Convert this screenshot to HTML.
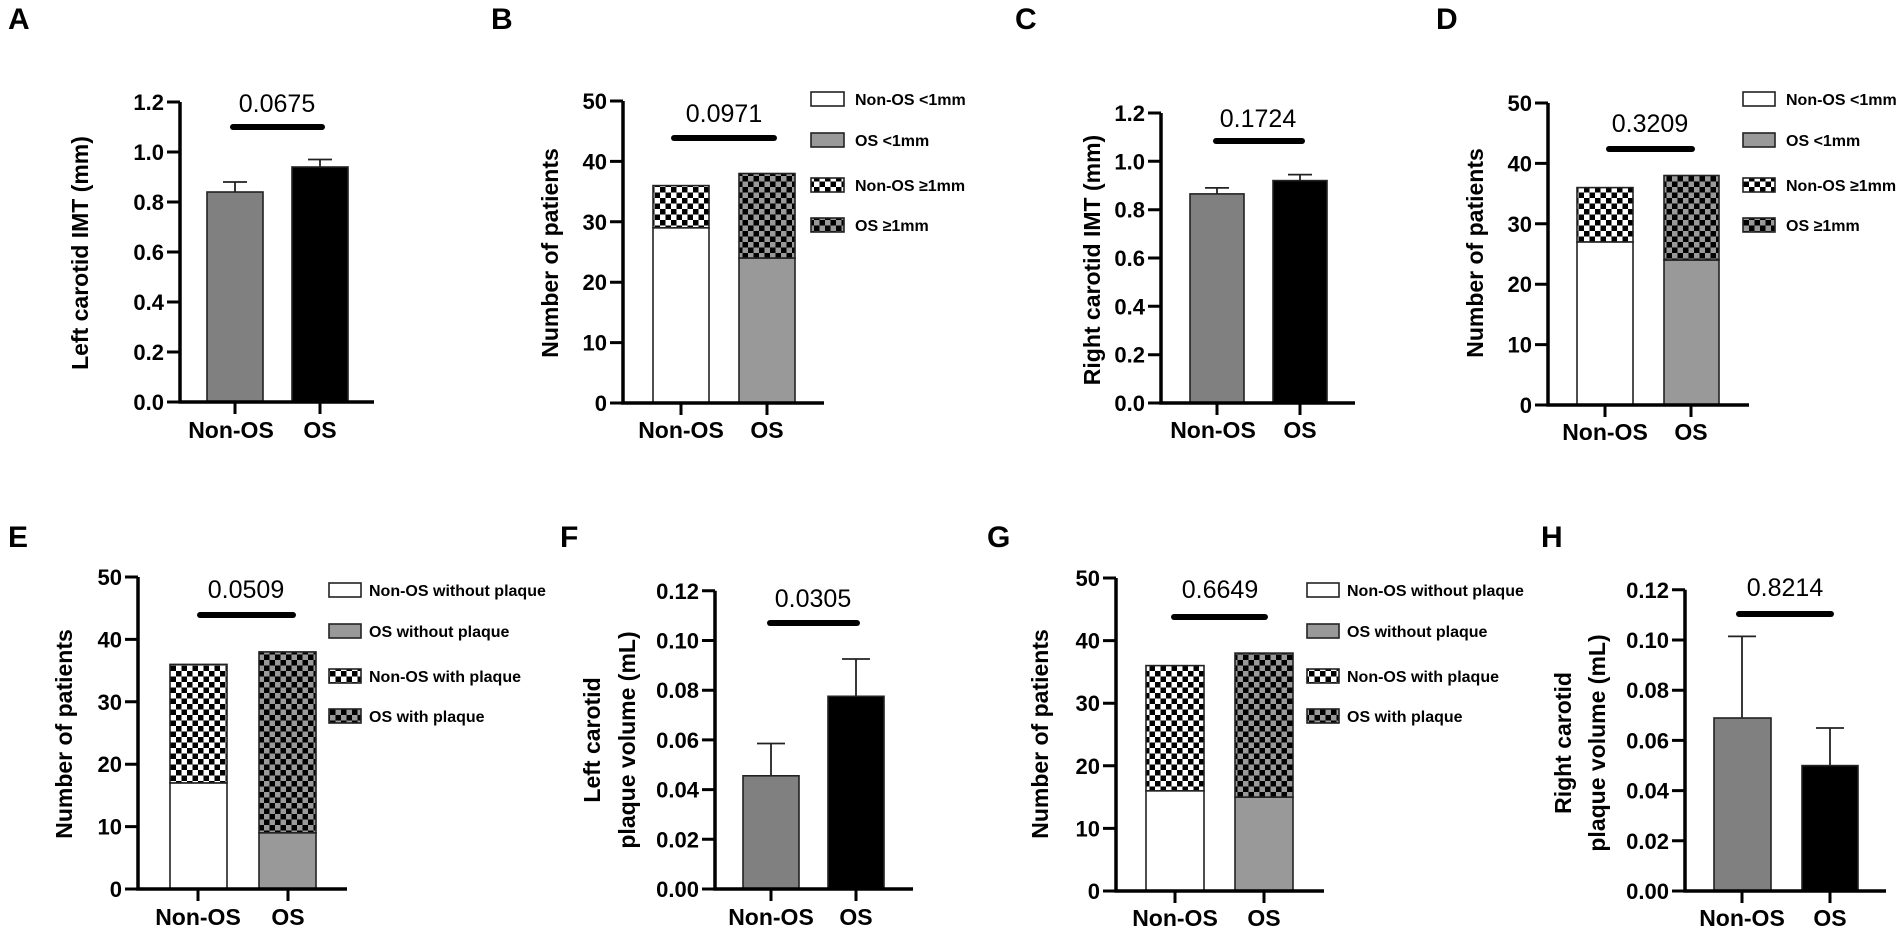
<!DOCTYPE html>
<html><head><meta charset="utf-8"><style>
html,body{margin:0;padding:0;background:#fff;}
svg{display:block;}
text{font-family:"Liberation Sans",Arial,sans-serif;}
.t{font-size:22px;font-weight:bold;text-anchor:end;}
.xl{font-size:23px;font-weight:bold;text-anchor:middle;}
.p{font-size:25px;text-anchor:middle;}
.yl{font-size:23px;font-weight:bold;text-anchor:middle;dominant-baseline:central;}
.lg{font-size:16px;font-weight:bold;}
.L{font-size:30px;font-weight:bold;}
.ax{stroke:#000;stroke-width:3.5;fill:none;}
.tk{stroke:#000;stroke-width:3;}
.sig{stroke:#000;stroke-width:6;stroke-linecap:round;}
.b{stroke:#222;stroke-width:1.6;}
.e{stroke:#222;stroke-width:1.8;fill:none;}
</style></head><body>
<svg width="1900" height="931" viewBox="0 0 1900 931" xmlns="http://www.w3.org/2000/svg">
<defs>
<pattern id="ck1" width="11" height="11" patternUnits="userSpaceOnUse"><rect width="11" height="11" fill="#fff"/><rect width="5.5" height="5.5" fill="#000"/><rect x="5.5" y="5.5" width="5.5" height="5.5" fill="#000"/></pattern>
<pattern id="ck2" width="11" height="11" patternUnits="userSpaceOnUse"><rect width="11" height="11" fill="#000"/><rect width="5.5" height="5.5" fill="#999"/><rect x="5.5" y="5.5" width="5.5" height="5.5" fill="#999"/></pattern>
</defs>

<text class="L" x="8" y="29">A</text>
<text class="L" x="491" y="29">B</text>
<text class="L" x="1015" y="29">C</text>
<text class="L" x="1436" y="29">D</text>
<text class="L" x="8" y="547">E</text>
<text class="L" x="560" y="547">F</text>
<text class="L" x="987" y="547">G</text>
<text class="L" x="1541" y="547">H</text>

<g>
<rect class="b" x="207" y="192" width="56" height="210" fill="#808080"/>
<rect class="b" x="292" y="167" width="56" height="235" fill="#000"/>
<path class="e" d="M235 192V182M223 182H247M320 167V159.5M308 159.5H332"/>
<path class="ax" d="M180 102V402H374"/>
<path class="tk" d="M167 402H180M167 352H180M167 302H180M167 252H180M167 202H180M167 152H180M167 102H180M235 402V414M320 402V414"/>
<text class="t" x="164" y="410">0.0</text><text class="t" x="164" y="360">0.2</text><text class="t" x="164" y="310">0.4</text><text class="t" x="164" y="260">0.6</text><text class="t" x="164" y="210">0.8</text><text class="t" x="164" y="160">1.0</text><text class="t" x="164" y="110">1.2</text>
<line class="sig" x1="233" y1="127" x2="322" y2="127"/>
<text class="p" x="277" y="112">0.0675</text>
<text class="xl" x="231" y="438">Non-OS</text><text class="xl" x="320" y="438">OS</text>
<text class="yl" transform="translate(80,253) rotate(-90)">Left carotid IMT (mm)</text>
</g>

<g>
<rect class="b" x="653" y="227.8" width="56" height="175.2" fill="#fff"/>
<rect class="b" x="653" y="185.6" width="56" height="42.2" fill="url(#ck1)"/>
<rect class="b" x="739" y="258" width="56" height="145" fill="#999"/>
<rect class="b" x="739" y="173.5" width="56" height="84.5" fill="url(#ck2)"/>
<path class="ax" d="M623 101V403H824"/>
<path class="tk" d="M610 403H623M610 342.6H623M610 282.2H623M610 221.8H623M610 161.4H623M610 101H623M681 403V415M767 403V415"/>
<text class="t" x="607" y="411">0</text><text class="t" x="607" y="350.6">10</text><text class="t" x="607" y="290.2">20</text><text class="t" x="607" y="229.8">30</text><text class="t" x="607" y="169.4">40</text><text class="t" x="607" y="109">50</text>
<line class="sig" x1="674" y1="138" x2="774" y2="138"/>
<text class="p" x="724" y="122">0.0971</text>
<text class="xl" x="681" y="438">Non-OS</text><text class="xl" x="767" y="438">OS</text>
<text class="yl" transform="translate(550,253) rotate(-90)">Number of patients</text>
<rect class="b" x="811" y="92" width="33" height="14" fill="#fff"/>
<rect class="b" x="811" y="133" width="33" height="14" fill="#999"/>
<rect class="b" x="811" y="178" width="33" height="14" fill="url(#ck1)"/>
<rect class="b" x="811" y="218" width="33" height="14" fill="url(#ck2)"/>
<text class="lg" x="855" y="105">Non-OS &lt;1mm</text>
<text class="lg" x="855" y="146">OS &lt;1mm</text>
<text class="lg" x="855" y="191">Non-OS ≥1mm</text>
<text class="lg" x="855" y="231">OS ≥1mm</text>
</g>

<g>
<rect class="b" x="1190" y="193.9" width="54" height="209.1" fill="#808080"/>
<rect class="b" x="1273" y="180.6" width="54" height="222.4" fill="#000"/>
<path class="e" d="M1217 193.9V187.9M1205 187.9H1229M1300 180.6V174.6M1288 174.6H1312"/>
<path class="ax" d="M1161 113V403H1355"/>
<path class="tk" d="M1148 403H1161M1148 354.7H1161M1148 306.3H1161M1148 258H1161M1148 209.7H1161M1148 161.3H1161M1148 113H1161M1217 403V415M1300 403V415"/>
<text class="t" x="1145" y="411">0.0</text><text class="t" x="1145" y="362.7">0.2</text><text class="t" x="1145" y="314.3">0.4</text><text class="t" x="1145" y="266">0.6</text><text class="t" x="1145" y="217.7">0.8</text><text class="t" x="1145" y="169.3">1.0</text><text class="t" x="1145" y="121">1.2</text>
<line class="sig" x1="1216" y1="141" x2="1302" y2="141"/>
<text class="p" x="1258" y="127">0.1724</text>
<text class="xl" x="1213" y="438">Non-OS</text><text class="xl" x="1300" y="438">OS</text>
<text class="yl" transform="translate(1092,260) rotate(-90)">Right carotid IMT (mm)</text>
</g>

<g>
<rect class="b" x="1577" y="241.9" width="56" height="163.1" fill="#fff"/>
<rect class="b" x="1577" y="187.6" width="56" height="54.3" fill="url(#ck1)"/>
<rect class="b" x="1664" y="260" width="55" height="145" fill="#999"/>
<rect class="b" x="1664" y="175.5" width="55" height="84.5" fill="url(#ck2)"/>
<path class="ax" d="M1548 103V405H1749"/>
<path class="tk" d="M1535 405H1548M1535 344.6H1548M1535 284.2H1548M1535 223.8H1548M1535 163.4H1548M1535 103H1548M1605 405V417M1691 405V417"/>
<text class="t" x="1532" y="413">0</text><text class="t" x="1532" y="352.6">10</text><text class="t" x="1532" y="292.2">20</text><text class="t" x="1532" y="231.8">30</text><text class="t" x="1532" y="171.4">40</text><text class="t" x="1532" y="111">50</text>
<line class="sig" x1="1609" y1="149" x2="1692" y2="149"/>
<text class="p" x="1650" y="132">0.3209</text>
<text class="xl" x="1605" y="440">Non-OS</text><text class="xl" x="1691" y="440">OS</text>
<text class="yl" transform="translate(1475,253) rotate(-90)">Number of patients</text>
<rect class="b" x="1743" y="92" width="32" height="14" fill="#fff"/>
<rect class="b" x="1743" y="133" width="32" height="14" fill="#999"/>
<rect class="b" x="1743" y="178" width="32" height="14" fill="url(#ck1)"/>
<rect class="b" x="1743" y="218" width="32" height="14" fill="url(#ck2)"/>
<text class="lg" x="1786" y="105">Non-OS &lt;1mm</text>
<text class="lg" x="1786" y="146">OS &lt;1mm</text>
<text class="lg" x="1786" y="191">Non-OS ≥1mm</text>
<text class="lg" x="1786" y="231">OS ≥1mm</text>
</g>

<g>
<rect class="b" x="170" y="782.9" width="57" height="106.1" fill="#fff"/>
<rect class="b" x="170" y="664.4" width="57" height="118.5" fill="url(#ck1)"/>
<rect class="b" x="259" y="832.8" width="57" height="56.2" fill="#999"/>
<rect class="b" x="259" y="651.9" width="57" height="180.9" fill="url(#ck2)"/>
<path class="ax" d="M138 577V889H347"/>
<path class="tk" d="M125 889H138M125 826.6H138M125 764.2H138M125 701.8H138M125 639.4H138M125 577H138M198 889V901M288 889V901"/>
<text class="t" x="122" y="897">0</text><text class="t" x="122" y="834.6">10</text><text class="t" x="122" y="772.2">20</text><text class="t" x="122" y="709.8">30</text><text class="t" x="122" y="647.4">40</text><text class="t" x="122" y="585">50</text>
<line class="sig" x1="200" y1="615" x2="293" y2="615"/>
<text class="p" x="246" y="598">0.0509</text>
<text class="xl" x="198" y="925">Non-OS</text><text class="xl" x="288" y="925">OS</text>
<text class="yl" transform="translate(64,734) rotate(-90)">Number of patients</text>
<rect class="b" x="329" y="583" width="32" height="14" fill="#fff"/>
<rect class="b" x="329" y="624" width="32" height="14" fill="#999"/>
<rect class="b" x="329" y="669" width="32" height="14" fill="url(#ck1)"/>
<rect class="b" x="329" y="709" width="32" height="14" fill="url(#ck2)"/>
<text class="lg" x="369" y="596">Non-OS without plaque</text>
<text class="lg" x="369" y="637">OS without plaque</text>
<text class="lg" x="369" y="682">Non-OS with plaque</text>
<text class="lg" x="369" y="722">OS with plaque</text>
</g>

<g>
<rect class="b" x="743" y="775.8" width="56" height="113.2" fill="#808080"/>
<rect class="b" x="828" y="696.3" width="56" height="192.7" fill="#000"/>
<path class="e" d="M771 775.8V743.5M757 743.5H785M856 696.3V659M842 659H870"/>
<path class="ax" d="M715 590.8V889H913"/>
<path class="tk" d="M702 889H715M702 839.3H715M702 789.6H715M702 739.9H715M702 690.2H715M702 640.5H715M702 590.8H715M771 889V901M856 889V901"/>
<text class="t" x="699" y="897">0.00</text><text class="t" x="699" y="847.3">0.02</text><text class="t" x="699" y="797.6">0.04</text><text class="t" x="699" y="747.9">0.06</text><text class="t" x="699" y="698.2">0.08</text><text class="t" x="699" y="648.5">0.10</text><text class="t" x="699" y="598.8">0.12</text>
<line class="sig" x1="770" y1="623" x2="857" y2="623"/>
<text class="p" x="813" y="607">0.0305</text>
<text class="xl" x="771" y="925">Non-OS</text><text class="xl" x="856" y="925">OS</text>
<text class="yl" transform="translate(592,740) rotate(-90)">Left carotid</text>
<text class="yl" transform="translate(627,740) rotate(-90)">plaque volume (mL)</text>
</g>

<g>
<rect class="b" x="1146" y="790.8" width="58" height="100.2" fill="#fff"/>
<rect class="b" x="1146" y="665.6" width="58" height="125.2" fill="url(#ck1)"/>
<rect class="b" x="1235" y="797.1" width="58" height="93.9" fill="#999"/>
<rect class="b" x="1235" y="653.1" width="58" height="144" fill="url(#ck2)"/>
<path class="ax" d="M1116 578V891H1324"/>
<path class="tk" d="M1103 891H1116M1103 828.4H1116M1103 765.8H1116M1103 703.2H1116M1103 640.6H1116M1103 578H1116M1175 891V903M1264 891V903"/>
<text class="t" x="1100" y="899">0</text><text class="t" x="1100" y="836.4">10</text><text class="t" x="1100" y="773.8">20</text><text class="t" x="1100" y="711.2">30</text><text class="t" x="1100" y="648.6">40</text><text class="t" x="1100" y="586">50</text>
<line class="sig" x1="1174" y1="617" x2="1265" y2="617"/>
<text class="p" x="1220" y="598">0.6649</text>
<text class="xl" x="1175" y="926">Non-OS</text><text class="xl" x="1264" y="926">OS</text>
<text class="yl" transform="translate(1040,734) rotate(-90)">Number of patients</text>
<rect class="b" x="1307" y="583" width="32" height="14" fill="#fff"/>
<rect class="b" x="1307" y="624" width="32" height="14" fill="#999"/>
<rect class="b" x="1307" y="669" width="32" height="14" fill="url(#ck1)"/>
<rect class="b" x="1307" y="709" width="32" height="14" fill="url(#ck2)"/>
<text class="lg" x="1347" y="596">Non-OS without plaque</text>
<text class="lg" x="1347" y="637">OS without plaque</text>
<text class="lg" x="1347" y="682">Non-OS with plaque</text>
<text class="lg" x="1347" y="722">OS with plaque</text>
</g>

<g>
<rect class="b" x="1714" y="718" width="57" height="173" fill="#808080"/>
<rect class="b" x="1802" y="765.6" width="56" height="125.4" fill="#000"/>
<path class="e" d="M1742 718V636.4M1728 636.4H1756M1830 765.6V728M1816 728H1844"/>
<path class="ax" d="M1685 589.8V891H1886"/>
<path class="tk" d="M1672 891H1685M1672 840.8H1685M1672 790.6H1685M1672 740.4H1685M1672 690.2H1685M1672 640H1685M1672 589.8H1685M1742 891V903M1830 891V903"/>
<text class="t" x="1669" y="899">0.00</text><text class="t" x="1669" y="848.8">0.02</text><text class="t" x="1669" y="798.6">0.04</text><text class="t" x="1669" y="748.4">0.06</text><text class="t" x="1669" y="698.2">0.08</text><text class="t" x="1669" y="648">0.10</text><text class="t" x="1669" y="597.8">0.12</text>
<line class="sig" x1="1739" y1="614" x2="1831" y2="614"/>
<text class="p" x="1785" y="596">0.8214</text>
<text class="xl" x="1742" y="926">Non-OS</text><text class="xl" x="1830" y="926">OS</text>
<text class="yl" transform="translate(1563,743) rotate(-90)">Right carotid</text>
<text class="yl" transform="translate(1597,743) rotate(-90)">plaque volume (mL)</text>
</g>
</svg>
</body></html>
